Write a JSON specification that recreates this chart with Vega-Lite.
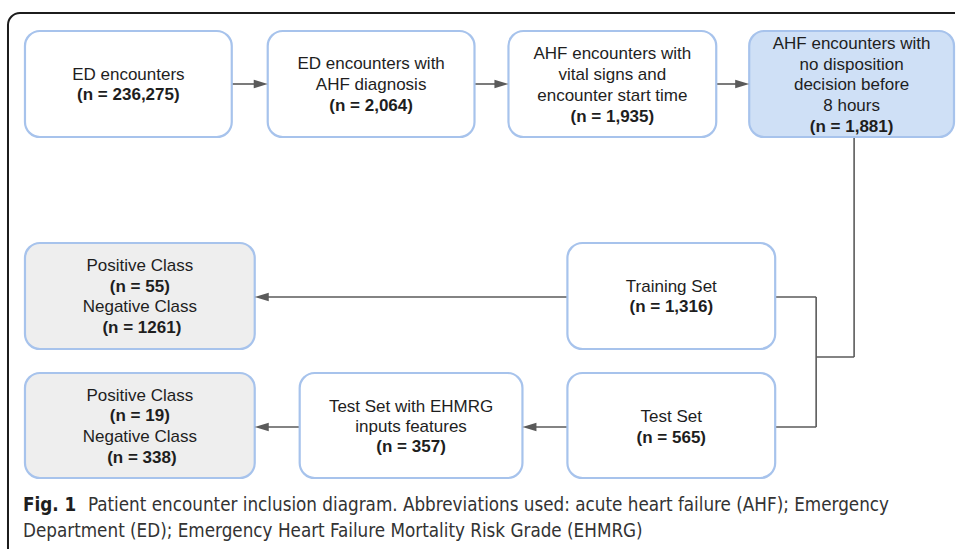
{
  "$schema": "https://vega.github.io/schema/vega-lite/v6.json",
  "width": 956,
  "height": 549,
  "padding": 0,
  "autosize": {"type": "fit", "contains": "padding"},
  "background": "#ffffff",
  "config": {"view": {"stroke": null}},
  "datasets": {
    "frame": [{"x1": 8, "x2": 1000, "y1": 13, "y2": 620}],
    "boxes": [
      {"id": "B1", "x1": 25, "x2": 232, "y1": 31, "y2": 137, "kind": "plain"},
      {"id": "B2", "x1": 268, "x2": 475, "y1": 31, "y2": 137, "kind": "plain"},
      {"id": "B3", "x1": 509, "x2": 717, "y1": 31, "y2": 137, "kind": "plain"},
      {"id": "B4", "x1": 750, "x2": 955, "y1": 31, "y2": 137, "kind": "highlight"},
      {"id": "P1", "x1": 25, "x2": 255, "y1": 243, "y2": 349, "kind": "result"},
      {"id": "TR", "x1": 568, "x2": 776, "y1": 243, "y2": 349, "kind": "plain"},
      {"id": "P2", "x1": 25, "x2": 255, "y1": 373, "y2": 478, "kind": "result"},
      {"id": "EH", "x1": 300, "x2": 523, "y1": 373, "y2": 478, "kind": "plain"},
      {"id": "TE", "x1": 568, "x2": 776, "y1": 373, "y2": 478, "kind": "plain"}
    ],
    "links": [
      {"x1": 232, "x2": 262, "y1": 84, "y2": 84},
      {"x1": 475, "x2": 503, "y1": 84, "y2": 84},
      {"x1": 717, "x2": 744, "y1": 84, "y2": 84},
      {"x1": 855, "x2": 855, "y1": 137, "y2": 357},
      {"x1": 817, "x2": 855, "y1": 357, "y2": 357},
      {"x1": 817, "x2": 817, "y1": 297, "y2": 427},
      {"x1": 776, "x2": 817, "y1": 297, "y2": 297},
      {"x1": 776, "x2": 817, "y1": 427, "y2": 427},
      {"x1": 261, "x2": 568, "y1": 297, "y2": 297},
      {"x1": 529, "x2": 568, "y1": 427, "y2": 427},
      {"x1": 261, "x2": 300, "y1": 427, "y2": 427}
    ],
    "heads": [
      {"x": 268, "y": 84, "dir": "right"},
      {"x": 509, "y": 84, "dir": "right"},
      {"x": 750, "y": 84, "dir": "right"},
      {"x": 255, "y": 297, "dir": "left"},
      {"x": 523, "y": 427, "dir": "left"},
      {"x": 255, "y": 427, "dir": "left"}
    ],
    "labels": [
      {"x": 128.5, "y": 75, "text": "ED encounters", "role": "label"},
      {"x": 128.5, "y": 95, "text": "(n = 236,275)", "role": "count"},
      {"x": 371.5, "y": 64, "text": "ED encounters with", "role": "label"},
      {"x": 371.5, "y": 85, "text": "AHF diagnosis", "role": "label"},
      {"x": 371.5, "y": 106, "text": "(n = 2,064)", "role": "count"},
      {"x": 613, "y": 54, "text": "AHF encounters with", "role": "label"},
      {"x": 613, "y": 75, "text": "vital signs and", "role": "label"},
      {"x": 613, "y": 96, "text": "encounter start time", "role": "label"},
      {"x": 613, "y": 117, "text": "(n = 1,935)", "role": "count"},
      {"x": 852.5, "y": 44, "text": "AHF encounters with", "role": "label"},
      {"x": 852.5, "y": 65, "text": "no disposition", "role": "label"},
      {"x": 852.5, "y": 85, "text": "decision before", "role": "label"},
      {"x": 852.5, "y": 106, "text": "8 hours", "role": "label"},
      {"x": 852.5, "y": 127, "text": "(n = 1,881)", "role": "count"},
      {"x": 140, "y": 266, "text": "Positive Class", "role": "label"},
      {"x": 140, "y": 287, "text": "(n = 55)", "role": "count"},
      {"x": 140, "y": 307, "text": "Negative Class", "role": "label"},
      {"x": 142, "y": 328, "text": "(n = 1261)", "role": "count"},
      {"x": 672, "y": 287, "text": "Training Set", "role": "label"},
      {"x": 672, "y": 307, "text": "(n = 1,316)", "role": "count"},
      {"x": 140, "y": 396, "text": "Positive Class", "role": "label"},
      {"x": 140, "y": 416, "text": "(n = 19)", "role": "count"},
      {"x": 140, "y": 437, "text": "Negative Class", "role": "label"},
      {"x": 142, "y": 458, "text": "(n = 338)", "role": "count"},
      {"x": 411.5, "y": 407, "text": "Test Set with EHMRG", "role": "label"},
      {"x": 411.5, "y": 427, "text": "inputs features", "role": "label"},
      {"x": 411.5, "y": 447, "text": "(n = 357)", "role": "count"},
      {"x": 672, "y": 417, "text": "Test Set", "role": "label"},
      {"x": 672, "y": 438, "text": "(n = 565)", "role": "count"}
    ],
    "caption": [
      {"x": 23, "y": 511, "text": "Fig. 1", "role": "bold"},
      {"x": 88, "y": 511, "text": "Patient encounter inclusion diagram. Abbreviations used: acute heart failure (AHF); Emergency", "role": "plain"},
      {"x": 23, "y": 537, "text": "Department (ED); Emergency Heart Failure Mortality Risk Grade (EHMRG)", "role": "plain"}
    ]
  },
  "layer": [
    {
      "data": {"name": "frame"},
      "mark": {"type": "rect", "fill": null, "fillOpacity": 0, "stroke": "#1c1c1c", "strokeWidth": 2, "cornerRadius": 12, "clip": true},
      "encoding": {
        "x": {"field": "x1", "type": "quantitative", "axis": null, "scale": {"domain": [0, 956], "nice": false, "zero": false}},
        "x2": {"field": "x2"},
        "y": {"field": "y1", "type": "quantitative", "axis": null, "scale": {"domain": [0, 549], "nice": false, "zero": false, "reverse": true}},
        "y2": {"field": "y2"}
      }
    },
    {
      "data": {"name": "links"},
      "mark": {"type": "rule", "color": "#5a5a5a", "strokeWidth": 1.6},
      "encoding": {
        "x": {"field": "x1", "type": "quantitative", "axis": null},
        "x2": {"field": "x2"},
        "y": {"field": "y1", "type": "quantitative", "axis": null},
        "y2": {"field": "y2"}
      }
    },
    {
      "data": {"name": "boxes"},
      "mark": {"type": "rect", "stroke": "#a7c3ec", "strokeWidth": 2.2, "cornerRadius": 15},
      "encoding": {
        "x": {"field": "x1", "type": "quantitative", "axis": null},
        "x2": {"field": "x2"},
        "y": {"field": "y1", "type": "quantitative", "axis": null},
        "y2": {"field": "y2"},
        "fill": {"field": "kind", "type": "nominal", "legend": null, "scale": {"domain": ["plain", "highlight", "result"], "range": ["#ffffff", "#cfe0f6", "#eeeeee"]}}
      }
    },
    {
      "data": {"name": "heads"},
      "mark": {"type": "point", "filled": true, "opacity": 1, "size": 196, "color": "#5a5a5a", "strokeWidth": 0},
      "encoding": {
        "x": {"field": "x", "type": "quantitative", "axis": null},
        "y": {"field": "y", "type": "quantitative", "axis": null},
        "shape": {"field": "dir", "type": "nominal", "legend": null, "scale": {"domain": ["right", "left"], "range": ["M0,0L-2,-0.62L-2,0.62Z", "M0,0L2,-0.62L2,0.62Z"]}}
      }
    },
    {
      "data": {"name": "labels"},
      "transform": [{"filter": "datum.role === 'label'"}],
      "mark": {"type": "text", "align": "center", "baseline": "middle", "font": "Liberation Sans", "fontSize": 17, "color": "#1e1e1e"},
      "encoding": {
        "x": {"field": "x", "type": "quantitative", "axis": null},
        "y": {"field": "y", "type": "quantitative", "axis": null},
        "text": {"field": "text"}
      }
    },
    {
      "data": {"name": "labels"},
      "transform": [{"filter": "datum.role === 'count'"}],
      "mark": {"type": "text", "align": "center", "baseline": "middle", "font": "Liberation Sans", "fontSize": 17, "fontWeight": "bold", "color": "#1e1e1e"},
      "encoding": {
        "x": {"field": "x", "type": "quantitative", "axis": null},
        "y": {"field": "y", "type": "quantitative", "axis": null},
        "text": {"field": "text"}
      }
    },
    {
      "data": {"name": "caption"},
      "transform": [{"filter": "datum.role === 'bold'"}],
      "mark": {"type": "text", "align": "left", "baseline": "alphabetic", "font": "Liberation Sans Narrow, DejaVu Sans Condensed, sans-serif", "fontSize": 18.7, "fontWeight": "bold", "color": "#1e1e1e"},
      "encoding": {
        "x": {"field": "x", "type": "quantitative", "axis": null},
        "y": {"field": "y", "type": "quantitative", "axis": null},
        "text": {"field": "text"}
      }
    },
    {
      "data": {"name": "caption"},
      "transform": [{"filter": "datum.role === 'plain'"}],
      "mark": {"type": "text", "align": "left", "baseline": "alphabetic", "font": "Liberation Sans Narrow, DejaVu Sans Condensed, sans-serif", "fontSize": 18.7, "color": "#333333"},
      "encoding": {
        "x": {"field": "x", "type": "quantitative", "axis": null},
        "y": {"field": "y", "type": "quantitative", "axis": null},
        "text": {"field": "text"}
      }
    }
  ]
}
